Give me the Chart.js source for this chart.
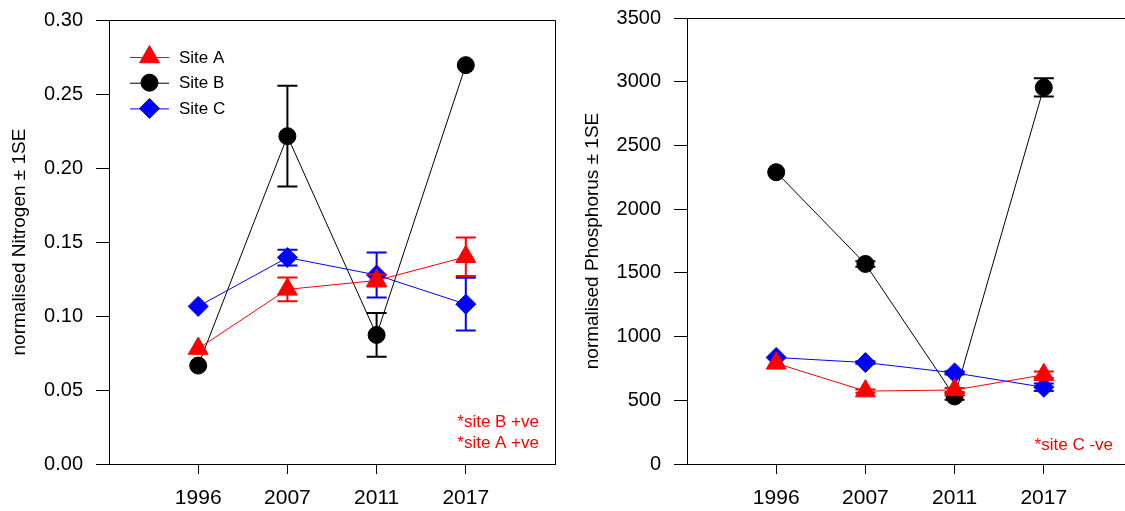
<!DOCTYPE html>
<html>
<head>
<meta charset="utf-8">
<title>Normalised nitrogen and phosphorus by site</title>
<script src="https://cdn.jsdelivr.net/npm/chart.js@4"></script>
<style>
  html, body { margin: 0; padding: 0; background: #fff; overflow: hidden; }
  #wrap { position: relative; width: 1125px; height: 511px; overflow: hidden; background: #fff; }
  canvas { position: absolute; top: 0; }
  #nitro { left: 0; }
  #phos { left: 562px; }
</style>
</head>
<body>
<div id="wrap">
  <canvas id="nitro" width="562" height="511"></canvas>
  <canvas id="phos" width="578" height="511"></canvas>
</div>
<script>
// Sampling years and their slots on the x axis
const years = ['1996', '2007', '2011', '2017'];
const yearSlots = [1, 2, 3, 4];
const siteNames = ['Site A', 'Site B', 'Site C'];

// Normalised nitrogen (mean and 1 SE)
const nitrogenA = [0.078, 0.118, 0.124, 0.140];
const nitrogenB = [0.0665, 0.2215, 0.0872, 0.2695];
const nitrogenC = [0.1065, 0.1395, 0.1277, 0.108];
const nitrogenErrA = [0, 0.008, 0.004, 0.013];
const nitrogenErrB = [0, 0.034, 0.0148, 0];
const nitrogenErrC = [0, 0.0053, 0.0152, 0.0178];

// Normalised phosphorus (mean and 1 SE)
const phosphorusA = [790, 572, 581, 700];
const phosphorusB = [2290, 1570, 530, 2955];
const phosphorusC = [836, 796, 715, 602];
const phosphorusErrA = [0, 12, 15, 25];
const phosphorusErrB = [0, 22, 25, 72];
const phosphorusErrC = [0, 10, 12, 30];

// Trend notes
const nitrogenNotes = ['*site B +ve', '*site A +ve'];
const phosphorusNotes = ['*site C -ve'];

const siteColors = ['#ff0000', '#000000', '#0000ff'];
const siteStyles = ['triangle', 'circle', 'rectRot'];
const siteRadii = [11.5, 8.5, 10];

Chart.defaults.font.family = "'Liberation Sans', Arial, Helvetica, sans-serif";
Chart.defaults.color = '#000';

function makeDataset(i, values) {
  return {
    label: siteNames[i],
    data: values.map((v, k) => ({ x: yearSlots[k], y: v })),
    borderColor: siteColors[i],
    backgroundColor: siteColors[i],
    borderWidth: 1,
    pointStyle: siteStyles[i],
    pointRadius: siteRadii[i],
    pointBackgroundColor: siteColors[i],
    pointBorderColor: siteColors[i],
    pointBorderWidth: 1,
    tension: 0,
    clip: false
  };
}

// Vertical ±1 SE bars with caps, drawn on top of each site's series
const errorBarPlugin = {
  id: 'errorBars',
  afterDatasetDraw(chart, args, opts) {
    const errs = opts.errors && opts.errors[args.index];
    if (!errs) return;
    const ctx = chart.ctx;
    const ys = chart.scales.y;
    const color = chart.data.datasets[args.index].borderColor;
    ctx.save();
    ctx.strokeStyle = color;
    ctx.lineWidth = 2;
    args.meta.data.forEach((pt, k) => {
      const e = errs[k];
      if (!e) return;
      const v = chart.data.datasets[args.index].data[k].y;
      const yHi = ys.getPixelForValue(v + e);
      const yLo = ys.getPixelForValue(v - e);
      const x = pt.x;
      const cap = opts.capHalfWidth || 10;
      ctx.beginPath();
      ctx.moveTo(x, yHi); ctx.lineTo(x, yLo);
      ctx.moveTo(x - cap, yHi); ctx.lineTo(x + cap, yHi);
      ctx.moveTo(x - cap, yLo); ctx.lineTo(x + cap, yLo);
      ctx.stroke();
    });
    ctx.restore();
  }
};

// Closed frame around the plotting area
const framePlugin = {
  id: 'frame',
  beforeDatasetsDraw(chart) {
    const a = chart.chartArea;
    const ctx = chart.ctx;
    ctx.save();
    ctx.strokeStyle = '#000';
    ctx.lineWidth = 1;
    ctx.beginPath();
    ctx.moveTo(Math.round(a.left) + 0.5, Math.round(a.top) + 0.5);
    ctx.lineTo(Math.round(a.right) + 0.5, Math.round(a.top) + 0.5);
    ctx.lineTo(Math.round(a.right) + 0.5, Math.round(a.bottom) + 0.5);
    ctx.stroke();
    ctx.restore();
  }
};

// Legend with a short line through each site's marker
const lineLegendPlugin = {
  id: 'lineLegend',
  afterDraw(chart, args, opts) {
    if (!opts.display) return;
    const a = chart.chartArea;
    const ctx = chart.ctx;
    ctx.save();
    chart.data.datasets.forEach((ds, i) => {
      const y = a.top + opts.top + i * opts.rowGap;
      const x0 = a.left + opts.left;
      ctx.strokeStyle = ds.borderColor;
      ctx.fillStyle = ds.borderColor;
      ctx.lineWidth = 1;
      ctx.beginPath();
      ctx.moveTo(x0, y + 0.5);
      ctx.lineTo(x0 + opts.lineLength, y + 0.5);
      ctx.stroke();
      Chart.helpers.drawPoint(ctx, {
        pointStyle: ds.pointStyle,
        radius: ds.pointRadius,
        rotation: 0,
        borderWidth: 1
      }, x0 + opts.lineLength / 2, y);
      ctx.fillStyle = '#000';
      ctx.font = opts.fontSize + "px 'Liberation Sans', Arial, sans-serif";
      ctx.textAlign = 'left';
      ctx.textBaseline = 'middle';
      ctx.fillText(ds.label, x0 + opts.lineLength + opts.textGap, y + 1);
    });
    ctx.restore();
  }
};

// Red trend notes in the lower right corner of the plot
const notesPlugin = {
  id: 'notes',
  afterDraw(chart, args, opts) {
    if (!opts.lines || !opts.lines.length) return;
    const a = chart.chartArea;
    const ctx = chart.ctx;
    ctx.save();
    ctx.fillStyle = '#ff0000';
    ctx.font = opts.fontSize + "px 'Liberation Sans', Arial, sans-serif";
    ctx.textAlign = 'right';
    ctx.textBaseline = 'middle';
    const n = opts.lines.length;
    opts.lines.forEach((t, i) => {
      const y = a.bottom - opts.bottom - (n - 1 - i) * opts.lineGap;
      ctx.fillText(t, a.right - opts.right, y);
    });
    ctx.restore();
  }
};

function buildChart(canvasId, cfg) {
  return new Chart(document.getElementById(canvasId), {
    type: 'line',
    data: {
      datasets: cfg.series.map((vals, i) => makeDataset(i, vals))
    },
    options: {
      responsive: false,
      animation: false,
      events: [],
      devicePixelRatio: 1,
      layout: {
        autoPadding: false,
        padding: { top: cfg.padTop, right: cfg.padRight, bottom: 0, left: 0 }
      },
      scales: {
        x: {
          type: 'linear',
          min: 0,
          max: 5,
          afterBuildTicks(scale) {
            scale.ticks = yearSlots.map(v => ({ value: v }));
          },
          afterFit(scale) { scale.height = 47; },
          ticks: {
            autoSkip: false,
            maxRotation: 0,
            padding: 12,
            font: { size: 21 },
            color: '#000',
            callback: (v) => years[yearSlots.indexOf(v)] || ''
          },
          grid: { drawOnChartArea: false, drawTicks: true, tickLength: 10, color: '#000', lineWidth: 1 },
          border: { display: true, color: '#000', width: 1 }
        },
        y: {
          type: 'linear',
          min: cfg.yMin,
          max: cfg.yMax,
          afterFit(scale) {
            scale.width = cfg.axisWidth;
            // the plot top is set by the layout padding alone
            scale.paddingTop = 0;
            scale.paddingBottom = 0;
          },
          ticks: {
            stepSize: cfg.yStep,
            padding: 13,
            font: { size: 20 },
            color: '#000',
            callback: cfg.yFormat
          },
          grid: { drawOnChartArea: false, drawTicks: true, tickLength: 13, color: '#000', lineWidth: 1 },
          border: { display: true, color: '#000', width: 1 },
          title: {
            display: true,
            text: cfg.yTitle,
            color: '#000',
            font: { size: 19 },
            padding: { top: cfg.titlePad, bottom: 0 }
          }
        }
      },
      plugins: {
        legend: { display: false },
        tooltip: { enabled: false },
        errorBars: { errors: cfg.errors, capHalfWidth: 10 },
        lineLegend: { display: cfg.showLegend, left: 21, top: 37, rowGap: 25.7, lineLength: 39, textGap: 10, fontSize: 17 },
        notes: { lines: cfg.notes, right: cfg.noteRight, bottom: cfg.noteBottom, lineGap: 20.6, fontSize: 17 }
      }
    },
    plugins: [framePlugin, errorBarPlugin, lineLegendPlugin, notesPlugin]
  });
}

buildChart('nitro', {
  series: [nitrogenA, nitrogenB, nitrogenC],
  errors: [nitrogenErrA, nitrogenErrB, nitrogenErrC],
  yMin: 0, yMax: 0.30, yStep: 0.05,
  yFormat: (v) => v.toFixed(2),
  yTitle: 'normalised Nitrogen \u00b1 1SE',
  axisWidth: 109, titlePad: 8,
  padTop: 20, padRight: 7,
  showLegend: true,
  notes: nitrogenNotes, noteRight: 16, noteBottom: 20.7
});

buildChart('phos', {
  series: [phosphorusA, phosphorusB, phosphorusC],
  errors: [phosphorusErrA, phosphorusErrB, phosphorusErrC],
  yMin: 0, yMax: 3500, yStep: 500,
  yFormat: (v) => String(Math.round(v)),
  yTitle: 'normalised Phosphorus \u00b1 1SE',
  axisWidth: 125, titlePad: 19,
  padTop: 18, padRight: 7,
  showLegend: false,
  notes: phosphorusNotes, noteRight: 20, noteBottom: 19
});
</script>
</body>
</html>
